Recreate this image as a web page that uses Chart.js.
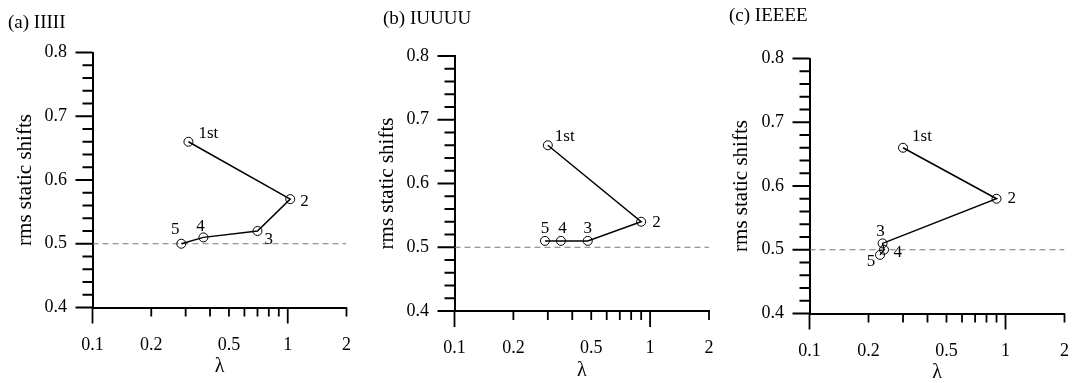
<!DOCTYPE html>
<html>
<head>
<meta charset="utf-8">
<script src="https://cdn.jsdelivr.net/npm/chart.js@4.4.1/dist/chart.umd.min.js"></script>
<style>
  html, body { margin: 0; padding: 0; background: #fff; }
  #wrap { position: relative; width: 1072px; height: 383px; overflow: hidden; }
  #wrap canvas { position: absolute; top: 0; }
</style>
</head>
<body>
<div id="wrap">
  <canvas id="panelA" width="358" height="383" style="left:0"></canvas>
  <canvas id="panelB" width="357" height="383" style="left:358px"></canvas>
  <canvas id="panelC" width="357" height="383" style="left:715px"></canvas>
</div>
<script>
// iteration labels shown next to each point
const iterNames = ['1st', '2', '3', '4', '5'];

// (a) IIIII
const lambdaA = [0.31, 1.03, 0.70, 0.37, 0.285];
const rmsA    = [0.66, 0.57, 0.52, 0.51, 0.50];
// (b) IUUUU
const lambdaB = [0.30, 0.90, 0.48, 0.35, 0.29];
const rmsB    = [0.66, 0.54, 0.51, 0.51, 0.51];
// (c) IEEEE
const lambdaC = [0.30, 0.90, 0.236, 0.24, 0.229];
const rmsC    = [0.66, 0.58, 0.51, 0.50, 0.492];

const refLevel = 0.5;

const xMin = 0.1, xMax = 2;
const xTickValues = [0.1, 0.2, 0.3, 0.4, 0.5, 0.6, 0.7, 0.8, 0.9, 1, 2];
const xTickLabels = [0.1, 0.2, 0.5, 1, 2];
const xMajorTicks = [0.1, 1];
const yTickLabels = [0.4, 0.5, 0.6, 0.7, 0.8];
const yMinorStep = 0.02;

const H = 383;
const serif = '"Liberation Serif", "Times New Roman", serif';

const panels = [
  { id: 'panelA', width: 358, title: '(a) IIIII', lambda: lambdaA, rms: rmsA,
    area: { left: 92.5, right: 346.5, top: 52.5, bottom: 307.5 },
    titlePos: [8, 23], yTitlePad: 15, xTitlePad: 6,
    labelPos: [[10, -8, 'left'], [10, 2, 'left'], [7, 9, 'left'], [-3, -11, 'center'], [-6, -14, 'center']] },
  { id: 'panelB', width: 357, title: '(b) IUUUU', lambda: lambdaB, rms: rmsB,
    area: { left: 96.5, right: 351, top: 56, bottom: 311 },
    titlePos: [25, 19], yTitlePad: 19, xTitlePad: 2.5,
    labelPos: [[7, -9, 'left'], [11, 1, 'left'], [0, -12.5, 'center'], [1.5, -12.5, 'center'], [0, -12.5, 'center']] },
  { id: 'panelC', width: 357, title: '(c) IEEEE', lambda: lambdaC, rms: rmsC,
    area: { left: 94.5, right: 349.5, top: 58.5, bottom: 313.5 },
    titlePos: [14, 16], yTitlePad: 15.5, xTitlePad: 0.5,
    labelPos: [[9, -11, 'left'], [11, 0, 'left'], [-2, -12, 'center'], [9.5, 3, 'left'], [-9, 7, 'center']] }
];

Chart.defaults.font.family = serif;
Chart.defaults.color = '#000';

// tick marks of two lengths, point labels and panel heading
const decorPlugin = {
  id: 'decor',
  afterDraw(chart, args, opts) {
    const { ctx, scales: { x, y } } = chart;
    const p = opts.panel;
    ctx.save();
    ctx.strokeStyle = '#000';
    ctx.lineWidth = 1.8;
    ctx.beginPath();
    x.ticks.forEach(t => {
      const px = x.getPixelForValue(t.value);
      const len = xMajorTicks.includes(t.value) ? 16 : 9;
      ctx.moveTo(px, x.top);
      ctx.lineTo(px, x.top + len);
    });
    y.ticks.forEach(t => {
      const py = y.getPixelForValue(t.value);
      const len = t.label ? 17 : 10;
      ctx.moveTo(y.right - len, py);
      ctx.lineTo(y.right, py);
    });
    ctx.stroke();

    ctx.fillStyle = '#000';
    ctx.textBaseline = 'middle';
    ctx.font = '17px ' + serif;
    chart.getDatasetMeta(0).data.forEach((pt, i) => {
      const [dx, dy, align] = p.labelPos[i];
      ctx.textAlign = align;
      ctx.fillText(iterNames[i], pt.x + dx, pt.y + dy);
    });

    ctx.font = '19px ' + serif;
    ctx.textAlign = 'left';
    ctx.fillText(p.title, p.titlePos[0], p.titlePos[1]);
    ctx.restore();
  }
};

panels.forEach(p => {
  const ctx = document.getElementById(p.id).getContext('2d');
  new Chart(ctx, {
    type: 'scatter',
    data: {
      datasets: [
        {
          data: p.lambda.map((v, i) => ({ x: v, y: p.rms[i] })),
          showLine: true,
          tension: 0,
          borderColor: '#000',
          borderWidth: 1.5,
          pointRadius: 4.5,
          pointBorderWidth: 1,
          pointBorderColor: '#000',
          pointBackgroundColor: 'rgba(0,0,0,0)'
        },
        {
          data: [{ x: xMin, y: refLevel }, { x: xMax, y: refLevel }],
          showLine: true,
          borderColor: '#777777',
          borderWidth: 1.2,
          borderDash: [6, 4],
          pointRadius: 0
        }
      ]
    },
    options: {
      responsive: false,
      animation: false,
      devicePixelRatio: 1,
      layout: {
        padding: { left: 0, top: p.area.top, right: p.width - p.area.right, bottom: 0 }
      },
      plugins: {
        legend: { display: false },
        tooltip: { enabled: false },
        decor: { panel: p }
      },
      scales: {
        x: {
          type: 'logarithmic',
          min: xMin,
          max: xMax,
          afterBuildTicks: (scale) => { scale.ticks = xTickValues.map(v => ({ value: v })); },
          afterFit: (scale) => { scale.height = H - p.area.bottom; },
          // tickLength only spaces the labels; the marks are drawn by the decor plugin
          grid: { display: false, drawTicks: true, tickLength: 27.5 },
          border: { display: true, color: '#000', width: 2 },
          ticks: {
            autoSkip: false,
            maxRotation: 0,
            padding: 1,
            font: { size: 18, lineHeight: 1 },
            callback: (v) => xTickLabels.includes(v) ? String(v) : ''
          },
          title: {
            display: true,
            text: 'λ',
            font: { size: 20, lineHeight: 1 },
            padding: { top: 0, bottom: p.xTitlePad }
          }
        },
        y: {
          min: yTickLabels[0],
          max: yTickLabels[yTickLabels.length - 1],
          afterBuildTicks: (scale) => {
            const ticks = [];
            for (let v = scale.min; v <= scale.max + 1e-9; v += yMinorStep) {
              ticks.push({ value: Math.round(v * 100) / 100 });
            }
            scale.ticks = ticks;
          },
          afterFit: (scale) => { scale.width = p.area.left; },
          grid: { display: false, drawTicks: true, tickLength: 24.5 },
          border: { display: true, color: '#000', width: 2 },
          ticks: {
            autoSkip: false,
            padding: 1,
            font: { size: 18, lineHeight: 1 },
            callback: (v) => yTickLabels.includes(v) ? v.toFixed(1) : ''
          },
          title: {
            display: true,
            text: 'rms static shifts',
            font: { size: 21, lineHeight: 1 },
            padding: { top: p.yTitlePad, bottom: 0 }
          }
        }
      }
    },
    plugins: [decorPlugin]
  });
});
</script>
</body>
</html>
